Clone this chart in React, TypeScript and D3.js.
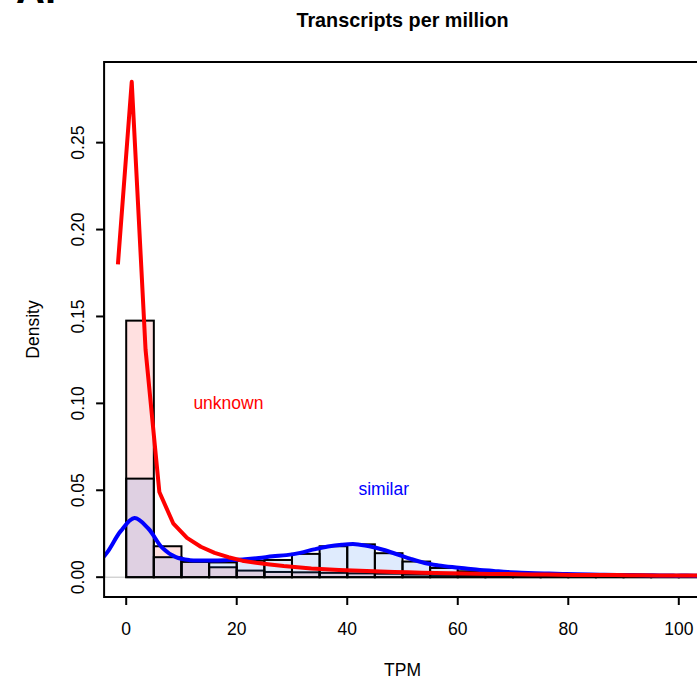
import React from "react";
import * as d3 from "d3";

// Histogram bins (width 5) starting at 0
const binStarts = [0, 5, 10, 15, 20, 25, 30, 35, 40, 45, 50, 55, 60, 65, 70, 75, 80, 85, 90, 95, 100];
const unknownDensity = [0.1476, 0.0178, 0.0092, 0.0057, 0.0038, 0.003, 0.0028, 0.0025, 0.0022, 0.002, 0.0015, 0.0013, 0.0011, 0.001, 0.0009, 0.0008, 0.0007, 0.0006, 0.0006, 0.0005, 0.0005];
const similarDensity = [0.0567, 0.0115, 0.0088, 0.0085, 0.0095, 0.0099, 0.0134, 0.0178, 0.0189, 0.0138, 0.009, 0.0053, 0.0034, 0.0022, 0.0015, 0.001, 0.0008, 0.0006, 0.0005, 0.0004, 0.0003];

// Kernel density curves
const unknownCurveX = [-1.5, 1, 3.5, 6, 8.5, 11, 13.5, 16, 18.5, 21, 23.5, 26, 28.5, 31, 33.5, 36, 38.5, 41, 43.5, 46, 48.5, 51, 53.5, 56, 58.5, 61, 63.5, 66, 68.5, 71, 73.5, 76, 78.5, 81, 83.5, 86, 88.5, 91, 93.5, 96, 98.5, 101, 103.5];
const unknownCurveY = [0.18, 0.285, 0.131, 0.049, 0.031, 0.0226, 0.0175, 0.014, 0.0115, 0.0095, 0.0083, 0.0073, 0.0064, 0.0057, 0.005, 0.0045, 0.0041, 0.0038, 0.0035, 0.0032, 0.003, 0.0028, 0.0026, 0.0024, 0.0023, 0.0021, 0.002, 0.0019, 0.0018, 0.0017, 0.0016, 0.0015, 0.0014, 0.0013, 0.0013, 0.0012, 0.0012, 0.0011, 0.0011, 0.001, 0.001, 0.0009, 0.0009];
const similarCurveX = [-6, -3.5, -1, 1.5, 4, 6.5, 9, 11.5, 14, 16.5, 19, 21.5, 24, 26.5, 29, 31.5, 34, 36.5, 39, 41.5, 44, 46.5, 49, 51.5, 54, 56.5, 59, 61.5, 64, 66.5, 69, 71.5, 74, 76.5, 79, 81.5, 84, 86.5, 89, 91.5, 94, 96.5, 99, 101.5, 104, 106.5];
const similarCurveY = [0.005, 0.014, 0.0265, 0.034, 0.028, 0.017, 0.0115, 0.0098, 0.0096, 0.0096, 0.0099, 0.0103, 0.011, 0.012, 0.0127, 0.014, 0.016, 0.0177, 0.0187, 0.019, 0.0178, 0.0158, 0.0132, 0.0105, 0.0082, 0.0068, 0.0058, 0.005, 0.0042, 0.0036, 0.003, 0.0026, 0.0023, 0.0021, 0.0019, 0.0017, 0.0015, 0.0014, 0.0013, 0.0012, 0.0011, 0.001, 0.0009, 0.0009, 0.0008, 0.0008];

const xTicks = [0, 20, 40, 60, 80, 100];
const yTicks = [0, 0.05, 0.1, 0.15, 0.2, 0.25];
const yTickLabels = ["0.00", "0.05", "0.10", "0.15", "0.20", "0.25"];

const W = 697;
const H = 684;
const left = 104.1, right = 700.9, top = 62, bottom = 597;
const font = "'Liberation Sans', Arial, Helvetica, sans-serif";

export default function App() {
  const x = d3.scaleLinear().domain([-4, 104]).range([left, right]);
  const y = d3.scaleLinear().domain([-0.0114, 0.2964]).range([bottom, top]);
  const binW = 5;

  const redLine = d3
    .line<number>()
    .x((_, i) => x(unknownCurveX[i]))
    .y((d) => y(d))
    .curve(d3.curveLinear)(unknownCurveY);
  const blueLine = d3
    .line<number>()
    .x((_, i) => x(similarCurveX[i]))
    .y((d) => y(d))
    .curve(d3.curveCatmullRom.alpha(0.5))(similarCurveY);

  return (
    <svg
      width={W}
      height={H}
      style={{ position: "absolute", left: 0, top: 0, background: "#fff" }}
      fontFamily={font}
    >
      <defs>
        <clipPath id="plotClip">
          <rect x={left} y={top} width={right - left} height={bottom - top} />
        </clipPath>
      </defs>
      <rect x={0} y={0} width={W} height={H} fill="#fff" />
      <text x={16} y={3} fontSize={40} fontWeight="bold" fill="#000">A.</text>

      <g clipPath="url(#plotClip)">
        <line x1={left} x2={right} y1={y(0)} y2={y(0)} stroke="#bebebe" strokeWidth={1} />
        {binStarts.map((b, i) => (
          <rect
            key={"u" + i}
            x={x(b)}
            y={y(unknownDensity[i])}
            width={x(b + binW) - x(b)}
            height={y(0) - y(unknownDensity[i])}
            fill="rgba(255,0,0,0.12)"
            stroke="#000"
            strokeWidth={2}
          />
        ))}
        {binStarts.map((b, i) => (
          <rect
            key={"s" + i}
            x={x(b)}
            y={y(similarDensity[i])}
            width={x(b + binW) - x(b)}
            height={y(0) - y(similarDensity[i])}
            fill="rgba(30,110,240,0.14)"
            stroke="#000"
            strokeWidth={2}
          />
        ))}
        <path d={blueLine || ""} fill="none" stroke="#0000ff" strokeWidth={4} strokeLinejoin="round" />
      </g>
      <path d={redLine || ""} fill="none" stroke="#ff0000" strokeWidth={4} strokeLinejoin="round" />

      <rect x={left} y={top} width={right - left} height={bottom - top} fill="none" stroke="#000" strokeWidth={2} />

      {/* x axis */}
      <line x1={x(0)} x2={x(100)} y1={bottom} y2={bottom} stroke="#000" strokeWidth={2} />
      {xTicks.map((t) => (
        <g key={"xt" + t}>
          <line x1={x(t)} x2={x(t)} y1={bottom} y2={bottom + 8} stroke="#000" strokeWidth={2} />
          <text x={x(t)} y={635} fontSize={17.5} textAnchor="middle" fill="#000">{t}</text>
        </g>
      ))}
      {/* y axis */}
      <line x1={left} x2={left} y1={y(0)} y2={y(0.25)} stroke="#000" strokeWidth={2} />
      {yTicks.map((t, i) => (
        <g key={"yt" + t}>
          <line x1={left} x2={left - 8} y1={y(t)} y2={y(t)} stroke="#000" strokeWidth={2} />
          <text
            transform={`translate(83.5,${y(t)}) rotate(-90)`}
            fontSize={17.5}
            textAnchor="middle"
            fill="#000"
          >
            {yTickLabels[i]}
          </text>
        </g>
      ))}

      <text x={(left + right) / 2} y={27} fontSize={19.8} fontWeight="bold" textAnchor="middle" fill="#000">
        Transcripts per million
      </text>
      <text x={(left + right) / 2} y={676} fontSize={17.5} textAnchor="middle" fill="#000">TPM</text>
      <text transform={`translate(39,${(top + bottom) / 2}) rotate(-90)`} fontSize={17.5} textAnchor="middle" fill="#000">
        Density
      </text>

      <text x={x(18.5)} y={409} fontSize={17.5} textAnchor="middle" fill="#ff0000">unknown</text>
      <text x={x(46.6)} y={495} fontSize={17.5} textAnchor="middle" fill="#0000ff">similar</text>
    </svg>
  );
}
